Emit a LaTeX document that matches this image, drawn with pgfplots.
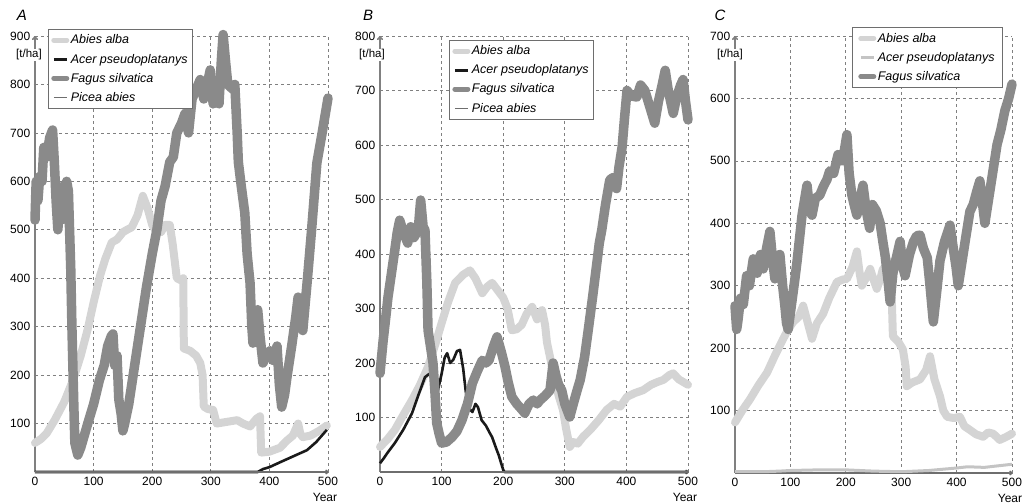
\documentclass[border=0pt]{standalone}
\usepackage{fontspec}
\setmainfont{Liberation Sans}
\usepackage{pgfplots}
\pgfplotsset{compat=1.18}
\usetikzlibrary{arrows.meta}
\definecolor{abiescol}{HTML}{D4D4D4}
\definecolor{fagcol}{HTML}{8A8A8A}
\definecolor{acercol}{HTML}{1A1A1A}
\definecolor{piceacol}{HTML}{6E6E6E}
\definecolor{acerlight}{HTML}{C4C4C4}
\definecolor{gridcol}{HTML}{808080}

\pgfplotsset{
  panel/.style={
    scale only axis,
    axis lines=left,
    xmin=0, xmax=500, ymin=0,
    xtick={0,100,...,500},
    grid=major,
    grid style={draw=gridcol, line width=0.7pt, dash pattern=on 3pt off 3pt},
    axis line style={draw=gray, line width=1.5pt},
    x axis line style={draw=piceacol, line width=2.6pt, -{To[length=3pt,width=5pt]}},
    y axis line style={-{To[length=4pt,width=6pt]}},
    major tick length=2.5pt,
    tick style={draw=gray, line width=0.8pt},
    tick label style={font=\fontsize{12}{13}\selectfont},
    /pgf/number format/assume math mode=true,
    clip=false,
    legend cell align=left,
    legend style={font=\itshape\fontsize{12.5}{15}\selectfont, draw=piceacol,
      line width=0.8pt, fill=white, inner xsep=3pt, inner ysep=4pt, row sep=5.5pt,
      nodes={inner sep=1.5pt}},
  },
  abies/.style={abiescol, line width=8pt, line join=round, line cap=round,
    legend image code/.code={\draw[abiescol, line width=5pt] (0pt,0pt)--(13pt,0pt);}},
  fagus/.style={fagcol, line width=9.5pt, line join=round, line cap=round,
    legend image code/.code={\draw[fagcol, line width=5pt] (0pt,0pt)--(13pt,0pt);}},
  acer/.style={acercol, line width=2.6pt, line join=round,
    legend image code/.code={\draw[acercol, line width=3pt] (0pt,0pt)--(13pt,0pt);}},
  acerl/.style={acerlight, line width=3pt, line join=round,
    legend image code/.code={\draw[acerlight, line width=3pt] (0pt,0pt)--(13pt,0pt);}},
  picea/.style={piceacol, line width=1.2pt,
    legend image code/.code={\draw[piceacol, line width=1.2pt] (0pt,0pt)--(13pt,0pt);}},
}

\begin{document}
\begin{tikzpicture}
\path[use as bounding box] (0,0) rectangle (1031pt,503pt);

% ---------------- A ----------------
\begin{axis}[panel, name=A, at={(35pt,31pt)}, anchor=south west,
  width=293pt, height=436pt, ymax=900, ytick={100,200,...,900},
  legend style={at={(0.044,1.016)}, anchor=north west}]
\addplot[abies] coordinates {
(0,60)(10,68)(20,80)(34,108)(50,145)(65,190)(78,240)(90,295)(100,350)(111,405)
(120,440)(131,474)(140,480)(150,495)(157,500)(165,505)(175,530)(184,570)(192,545)
(200,510)(205,500)(215,495)(222,510)(230,510)(235,470)(242,400)(250,395)(253,400)
(254,255)(265,250)(275,240)(282,225)(286,200)(288,135)(295,130)(304,128)(310,100)
(325,103)(345,107)(355,100)(367,94)(378,110)(384,115)(386,40)(400,42)(418,50)
(430,65)(440,75)(449,100)(453,78)(457,72)(470,75)(485,85)(498,96)};
\addlegendentry{Abies alba}
\addplot[acer] coordinates {
(0,0)(380,0)(389,6)(400,10)(418,20)(440,32)(464,45)(480,62)(498,87)};
\addlegendentry{Acer pseudoplatanys}
\addplot[fagus] coordinates {
(0,520)(2,600)(5,560)(8,610)(12,600)(15,670)(20,650)(25,690)(30,706)(33,640)
(36,560)(39,500)(42,560)(45,520)(48,590)(51,560)(54,600)(57,580)(59,500)(61,420)
(63,300)(66,150)(68,60)(73,35)(78,50)(90,100)(100,140)(110,190)(118,220)(124,260)
(130,280)(133,285)(136,220)(140,240)(143,150)(147,120)(150,85)(153,100)(160,140)
(170,220)(180,300)(190,380)(200,450)(208,500)(215,560)(222,590)(230,640)(236,650)
(242,700)(250,720)(256,740)(262,700)(268,770)(275,790)(282,810)(288,770)(294,800)
(299,830)(304,760)(309,790)(314,760)(318,850)(321,903)(325,850)(329,800)(333,795)
(338,790)(341,800)(345,700)(347,640)(352,590)(358,535)(362,450)(367,390)(370,300)
(372,266)(376,300)(380,335)(384,280)(389,225)(395,240)(401,250)(407,230)(413,260)
(417,180)(421,134)(426,160)(430,196)(438,260)(445,320)(449,361)(453,320)(457,292)
(465,400)(472,500)(481,638)(490,700)(500,772)};
\addlegendentry{Fagus silvatica}
\addplot[picea] coordinates {(0,0)(500,0)};
\addlegendentry{Picea abies}
\end{axis}
\node[fill=white, inner sep=1pt, font=\fontsize{11.5}{12}\selectfont]
  at ([shift={(-6pt,-19pt)}]A.north west) {[t/ha]};
\node[font=\itshape\fontsize{15}{15}\selectfont] at ([shift={(-13pt,21pt)}]A.north west) {A};
\node[font=\fontsize{12}{13}\selectfont] at ([shift={(-3pt,-25pt)}]A.south east) {Year};

% ---------------- B ----------------
\begin{axis}[panel, name=B, at={(380pt,31pt)}, anchor=south west,
  width=308pt, height=436pt, ymax=800, ytick={100,200,...,800},
  legend style={at={(0.224,0.991)}, anchor=north west}]
\addplot[abies] coordinates {
(0,46)(12,60)(24,77)(38,105)(52,132)(65,160)(78,193)(90,235)(100,273)(110,310)
(122,347)(135,362)(146,370)(155,355)(166,328)(174,340)(182,347)(190,335)(200,320)
(207,300)(214,260)(222,262)(230,270)(238,290)(247,303)(255,280)(263,297)(268,270)
(271,238)(278,200)(284,169)(290,140)(297,114)(302,80)(308,46)(314,55)(321,52)
(330,65)(341,77)(355,95)(368,114)(380,125)(390,120)(401,138)(414,145)(427,150)
(440,160)(450,165)(460,169)(470,178)(476,181)(485,170)(500,160)};
\addlegendentry{Abies alba}
\addplot[acer] coordinates {
(0,16)(6,25)(12,35)(24,53)(38,78)(52,108)(62,140)(73,174)(80,180)(86,174)(94,150)
(100,180)(105,210)(109,218)(114,200)(119,206)(125,222)(130,224)(135,190)(139,150)
(143,119)(150,110)(155,125)(159,119)(165,95)(172,85)(178,72)(182,64)(188,45)
(193,30)(197,15)(200,4)(202,0)(500,0)};
\addlegendentry{Acer pseudoplatanys}
\addplot[fagus] coordinates {
(0,181)(5,240)(10,290)(13,321)(18,360)(24,407)(28,440)(32,462)(38,440)(45,420)
(50,450)(55,430)(62,444)(66,499)(70,450)(73,444)(76,350)(78,260)(82,230)(86,200)
(89,150)(92,90)(96,70)(100,53)(108,55)(117,64)(125,75)(133,95)(142,125)(150,163)
(158,185)(166,205)(172,200)(177,205)(184,230)(190,248)(197,220)(203,193)(208,165)
(214,138)(222,125)(230,115)(235,108)(242,125)(249,132)(255,125)(260,132)(268,140)
(276,150)(281,200)(286,175)(290,160)(295,150)(300,125)(308,101)(315,130)(320,150)
(325,169)(332,210)(338,260)(345,320)(352,383)(356,420)(360,444)(366,490)(373,536)
(378,540)(384,520)(388,560)(393,596)(397,650)(401,700)(408,690)(417,688)(423,710)
(430,700)(438,670)(446,640)(452,680)(458,710)(463,737)(468,700)(476,658)(482,690)
(488,710)(492,720)(496,680)(500,646)};
\addlegendentry{Fagus silvatica}
\addplot[picea] coordinates {(0,0)(500,0)};
\addlegendentry{Picea abies}
\end{axis}
\node[fill=white, inner sep=1pt, font=\fontsize{11.5}{12}\selectfont]
  at ([shift={(-8pt,-19pt)}]B.north west) {[t/ha]};
\node[font=\itshape\fontsize{15}{15}\selectfont] at ([shift={(-12pt,21pt)}]B.north west) {B};
\node[font=\fontsize{12}{13}\selectfont] at ([shift={(-3pt,-25pt)}]B.south east) {Year};

% ---------------- C ----------------
\begin{axis}[panel, name=C, at={(735pt,30pt)}, anchor=south west,
  width=277pt, height=437pt, ymax=700, ytick={100,200,...,700},
  legend style={at={(0.422,1.02)}, anchor=north west, inner xsep=6pt}]
\addplot[abies] coordinates {
(0,81)(13,100)(27,118)(42,140)(58,161)(72,188)(87,215)(96,230)(105,242)(115,250)
(123,268)(130,245)(139,215)(148,240)(159,255)(170,280)(184,306)(195,310)(202,311)
(212,330)(220,355)(225,320)(229,300)(238,315)(244,327)(250,310)(256,295)(262,310)
(267,327)(273,330)(280,339)(283,280)(285,219)(295,210)(303,198)(308,170)(310,139)
(320,145)(334,150)(345,165)(352,187)(360,150)(370,123)(376,100)(383,90)(395,88)
(406,90)(414,75)(424,69)(435,62)(448,58)(457,65)(466,63)(478,53)(490,58)(500,63)};
\addlegendentry{Abies alba}
\addplot[acerl] coordinates {
(0,2)(50,2)(80,3)(100,4)(150,5)(200,5)(250,3)(300,2)(350,4)(400,8)(420,10)
(450,9)(480,12)(500,14)};
\addlegendentry{Acer pseudoplatanys}
\addplot[fagus] coordinates {
(0,268)(3,230)(5,242)(10,280)(15,270)(21,316)(26,300)(33,343)(40,320)(46,350)
(51,327)(57,360)(63,387)(68,340)(72,311)(76,340)(81,350)(86,300)(90,268)(93,240)
(96,230)(102,270)(108,310)(112,339)(117,380)(121,413)(126,440)(130,461)(135,420)
(139,413)(145,440)(153,445)(160,460)(166,470)(171,484)(178,480)(186,510)(194,500)
(198,520)(202,542)(206,480)(211,445)(215,430)(220,413)(226,440)(231,461)(237,420)
(243,392)(248,430)(255,420)(262,400)(267,370)(271,348)(276,310)(280,274)(285,320)
(290,340)(298,371)(303,330)(307,316)(315,350)(322,370)(328,380)(334,381)(340,360)
(347,345)(352,300)(358,242)(364,290)(370,340)(378,370)(388,397)(394,360)(399,330)
(403,300)(410,340)(417,380)(424,419)(430,430)(436,450)(442,468)(447,430)(451,400)
(458,440)(465,480)(473,526)(480,550)(487,580)(494,600)(500,623)};
\addlegendentry{Fagus silvatica}
\end{axis}
\node[fill=white, inner sep=1pt, font=\fontsize{11.5}{12}\selectfont]
  at ([shift={(-5pt,-19pt)}]C.north west) {[t/ha]};
\node[font=\itshape\fontsize{15}{15}\selectfont] at ([shift={(-15pt,21pt)}]C.north west) {C};
\node[font=\fontsize{12}{13}\selectfont] at ([shift={(-2pt,-25pt)}]C.south east) {Year};
\end{tikzpicture}
\end{document}
